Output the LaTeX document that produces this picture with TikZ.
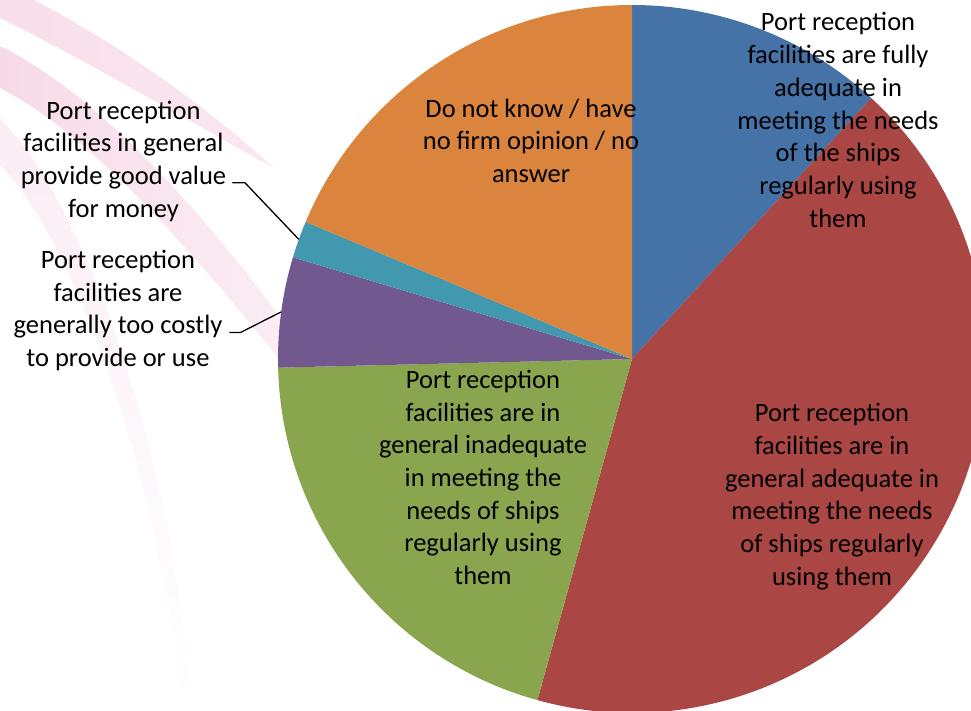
\documentclass[tikz,border=0pt]{standalone}
\usepackage{fontspec}
\setmainfont{Carlito}
\usetikzlibrary{calc}
\definecolor{cblue}{RGB}{69,114,167}
\definecolor{cred}{RGB}{170,70,67}
\definecolor{cgreen}{RGB}{137,165,78}
\definecolor{cpurple}{RGB}{113,88,143}
\definecolor{cteal}{RGB}{65,152,175}
\definecolor{corange}{RGB}{219,132,61}
\definecolor{swoosh}{RGB}{225,120,170}
\begin{document}
\begin{tikzpicture}[x=1pt,y=-1pt,
  lbl/.style={align=center,inner sep=0pt,text=black,font=\fontsize{26.5}{32.7}\selectfont},
  leader/.style={draw=black,line width=1.3pt},
  band/.style={draw=none}]
\useasboundingbox (0,0) rectangle (971,710);
\clip (0,0) rectangle (971,710);
% background swooshes
\shade[band,opacity=0.32,left color=swoosh!75,right color=swoosh!55] (6,0) -- (34,0) .. controls (120,45) and (205,105) .. (274,168)
   .. controls (195,125) and (95,65) .. (0,18) -- (0,0) -- cycle;
\shade[band,opacity=0.32,left color=swoosh!85,right color=swoosh!40] (0,46) .. controls (100,95) and (205,215) .. (290,330)
   -- (290,372) .. controls (200,262) and (100,140) .. (0,88) -- cycle;
\shade[band,opacity=0.22,top color=swoosh!60,bottom color=white] (0,118) .. controls (85,205) and (172,450) .. (192,710)
   -- (182,710) .. controls (160,470) and (70,235) .. (0,165) -- cycle;
% pie
\coordinate (ctr) at (632,359);
\def\R{354}
\fill[cblue]   (ctr) -- ++(-90:\R) arc[start angle=-90, end angle=-47.5, radius=\R] -- cycle;
\fill[cred]    (ctr) -- ++(-47.5:\R) arc[start angle=-47.5, end angle=105.5, radius=\R] -- cycle;
\fill[cgreen]  (ctr) -- ++(105.5:\R) arc[start angle=105.5, end angle=178.6, radius=\R] -- cycle;
\fill[cpurple] (ctr) -- ++(178.6:\R) arc[start angle=178.6, end angle=196.7, radius=\R] -- cycle;
\fill[cteal]   (ctr) -- ++(196.7:\R) arc[start angle=196.7, end angle=202.8, radius=\R] -- cycle;
\fill[corange] (ctr) -- ++(202.8:\R) arc[start angle=202.8, end angle=270, radius=\R] -- cycle;
% labels
\node[lbl] (orangelbl) at (531,140.6) {Do not know / have\\no firm opinion / no\\answer};
\node[lbl] (bluelbl) at (838,120) {Port reception\\facilities are fully\\adequate in\\meeting the needs\\of the ships\\regularly using\\them};
\node[lbl] (redlbl) at (832,496.5) {Port reception\\facilities are in\\general adequate in\\meeting the needs\\of ships regularly\\using them};
\node[lbl] (greenlbl) at (483,477.4) {Port reception\\facilities are in\\general inadequate\\in meeting the\\needs of ships\\regularly using\\them};
\node[lbl] (teallbl) at (123.5,161.3) {Port reception\\facilities in general\\provide good value\\for money};
\node[lbl] (purplelbl) at (118,310.5) {Port reception\\facilities are\\generally too costly\\to provide or use};
% leader lines
\coordinate (tA) at (232.3,182.8);
\coordinate (tB) at (245,182.8);
\coordinate (tealpt) at ($(ctr)+(199.75:\R)$);
\coordinate (pA) at (229.3,332.4);
\coordinate (pB) at (240.7,332.4);
\coordinate (purplept) at ($(ctr)+(187.65:\R)$);
\draw[leader] (tA) -- (tB) -- (tealpt);
\draw[leader] (pA) -- (pB) -- (purplept);
\end{tikzpicture}
\end{document}
